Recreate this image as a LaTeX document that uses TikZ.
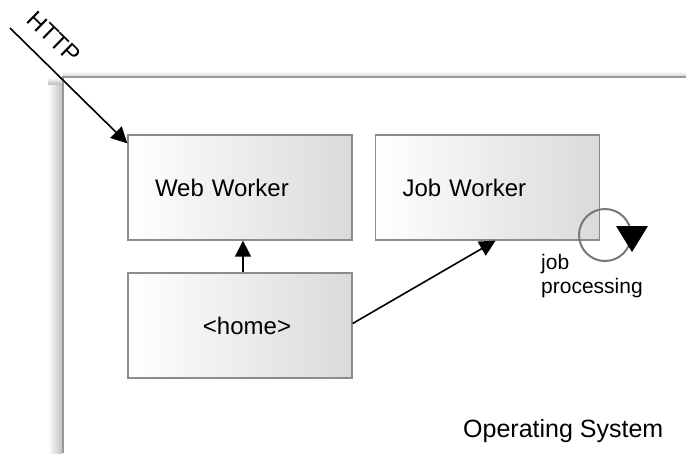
\documentclass[tikz,border=0pt]{standalone}
\usepackage{fontspec}
\setmainfont{Liberation Sans}
\usetikzlibrary{arrows.meta,calc}
\definecolor{edgegray}{HTML}{8C8C8C}
\definecolor{boxend}{HTML}{DADADA}
\definecolor{framegray}{HTML}{9A9A9A}
\definecolor{loopgray}{HTML}{777777}
\begin{document}
\begin{tikzpicture}[x=1pt,y=-1pt,
  box/.style={draw=edgegray, line width=1.3pt, left color=white, right color=boxend,
              minimum height=105pt, text width=170pt, inner xsep=27pt, inner ysep=0pt,
              font=\fontsize{24}{28}\selectfont},
  flow/.style={line width=1.6pt, -{Triangle[length=16pt,width=16pt]}},
  lbl/.style={inner sep=0pt}]
\useasboundingbox (0,0) rectangle (686,453);

% soft shadow of the operating system frame
\shade[left color=white, right color=black!24] (48,84) rectangle (62,453);
\shade[top color=white, bottom color=black!24] (48,77) rectangle (62,84);
\shade[top color=white, bottom color=black!16] (63,71) rectangle (686,76);
\draw[framegray, line width=1.8pt] (686,77) -- (63,77) -- (63,453);

% components
\node[box, align=left] (web) at (240,187.5) {Web Worker};
\node[box, align=left] (job) at (487.5,187.5) {Job Worker};
\node[box, align=center] (home) at (240,325.5) {\hspace*{14pt}<home>};

% processing loop with its arrowhead
\coordinate (loop) at (605,235);
\draw[loopgray, line width=2pt] (loop) circle[radius=26];
\fill[black] ($(loop)+(11,-9)$) -- ($(loop)+(43,-9)$) -- ($(loop)+(27,17)$) -- cycle;
\node[lbl, anchor=west, align=left, font=\fontsize{21}{24}\selectfont] (proc) at (541,276) {job\\processing};

% connectors
\coordinate (src) at (10,28);
\draw[flow] (src) -- ([yshift=-9pt]web.north west);
\node[lbl, rotate=-44.3, font=\fontsize{24}{28}\selectfont] (http) at (54,37) {HTTP};
\draw[flow] ([xshift=3pt]home.north) -- ([xshift=3pt]web.south);
\draw[flow] ([yshift=2pt]home.east) -- ([xshift=8pt]job.south);

\node[lbl, anchor=base west, font=\fontsize{25}{30}\selectfont] (os) at (463,437) {Operating System};
\end{tikzpicture}
\end{document}
